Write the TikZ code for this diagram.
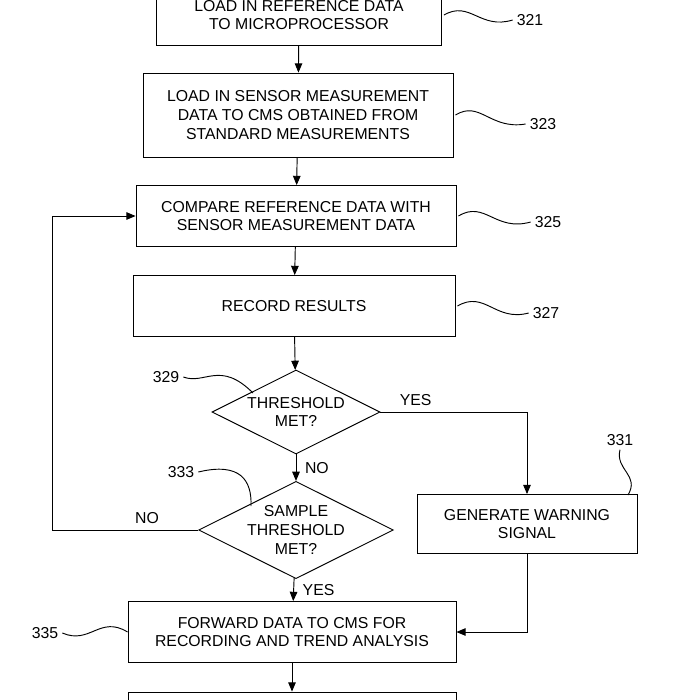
\documentclass[tikz,border=0pt]{standalone}
\usepackage{fontspec}
\setmainfont{Liberation Sans}
\usetikzlibrary{shapes.geometric, arrows, positioning, calc}
\begin{document}
\begin{tikzpicture}[
			x=0.03cm, y=-0.03cm,
			font=\fontsize{13.5}{16}\selectfont,
			box/.style = {rectangle, draw, thick, align=center, inner sep=0pt},
			decision/.style = {diamond, draw, thick, align=center, inner sep=0pt, aspect=2},
			line/.style = {draw, thick, -triangle 45},
			tag/.style = {draw, thick},
		]
		\useasboundingbox (0,0) rectangle (700,700);

		% Boxes
		\node [box, minimum width=285*0.03cm, minimum height=60*0.03cm] (load) at (299,15) {LOAD IN REFERENCE DATA\\TO MICROPROCESSOR};
		\node [box, minimum width=310*0.03cm, minimum height=84*0.03cm] (sensor) at (298,115) {LOAD IN SENSOR MEASUREMENT\\DATA TO CMS OBTAINED FROM\\STANDARD MEASUREMENTS};
		\node [box, minimum width=320*0.03cm, minimum height=61*0.03cm] (compare) at (296,216) {COMPARE REFERENCE DATA WITH\\SENSOR MEASUREMENT DATA};
		\node [box, minimum width=322*0.03cm, minimum height=61*0.03cm] (record) at (294,306) {RECORD RESULTS};
		\node [decision, minimum width=168*0.03cm, minimum height=84*0.03cm] (threshold) at (296,412) {THRESHOLD\\MET?};
		\node [decision, minimum width=168*0.03cm, minimum height=92*0.03cm] (sample) at (296,530) {SAMPLE\\THRESHOLD\\MET?};
		\node [box, minimum width=220*0.03cm, minimum height=59*0.03cm] (warning) at (527,524) {GENERATE WARNING\\SIGNAL};
		\node [box, minimum width=328*0.03cm, minimum height=61*0.03cm] (forward) at (292,632) {FORWARD DATA TO CMS FOR\\RECORDING AND TREND ANALYSIS};
		\node [box, minimum width=328*0.03cm, minimum height=30*0.03cm] (next) at (292,707) {};

		% Flow
		\path [line] (load) -- (sensor);
		\path [line] (sensor) -- (compare);
		\path [line] (compare) -- (record);
		\path [line] (record) -- (threshold);
		\path [line] (threshold) -- node [right=4pt] {NO} (sample);
		\path [line] (threshold.east) -| node [pos=0.12, above=2pt] {YES} (warning.north);
		\path [line] (sample.west) -- node [pos=0.35, above=2pt] {NO} (52,530) |- (compare.west);
		\path [line] (sample) -- node [right=4pt] {YES} (forward);
		\path [line] (warning.south) |- (forward.east);
		\path [line] (forward) -- (next);

		% Reference numerals
		\node (n321) at (530,20) {321};
		\node (n323) at (543,124) {323};
		\node (n325) at (548,222) {325};
		\node (n327) at (546,313) {327};
		\node (n329) at (166,377) {329};
		\node (n333) at (181,472) {333};
		\node (n331) at (620,440) {331};
		\node (n335) at (45,633) {335};
		\draw [tag] (load.east) ++(2,0) .. controls (470,0) and (480,30) .. (n321.west);
		\draw [tag] (sensor.east) ++(2,0) .. controls (480,100) and (490,130) .. (n323.west);
		\draw [tag] (compare.east) ++(2,0) .. controls (485,200) and (495,232) .. (n325.west);
		\draw [tag] (record.east) ++(2,0) .. controls (485,290) and (495,322) .. (n327.west);
		\draw [tag] (n329.east) .. controls (205,385) and (220,360) .. (253,393);
		\draw [tag] (n333.east) .. controls (240,462) and (252,480) .. (251,506);
		\draw [tag] (n331.south) .. controls (615,470) and (640,475) .. (628,495);
		\draw [tag] (n335.east) .. controls (90,645) and (100,615) .. (forward.west);
	\end{tikzpicture}
\end{document}
